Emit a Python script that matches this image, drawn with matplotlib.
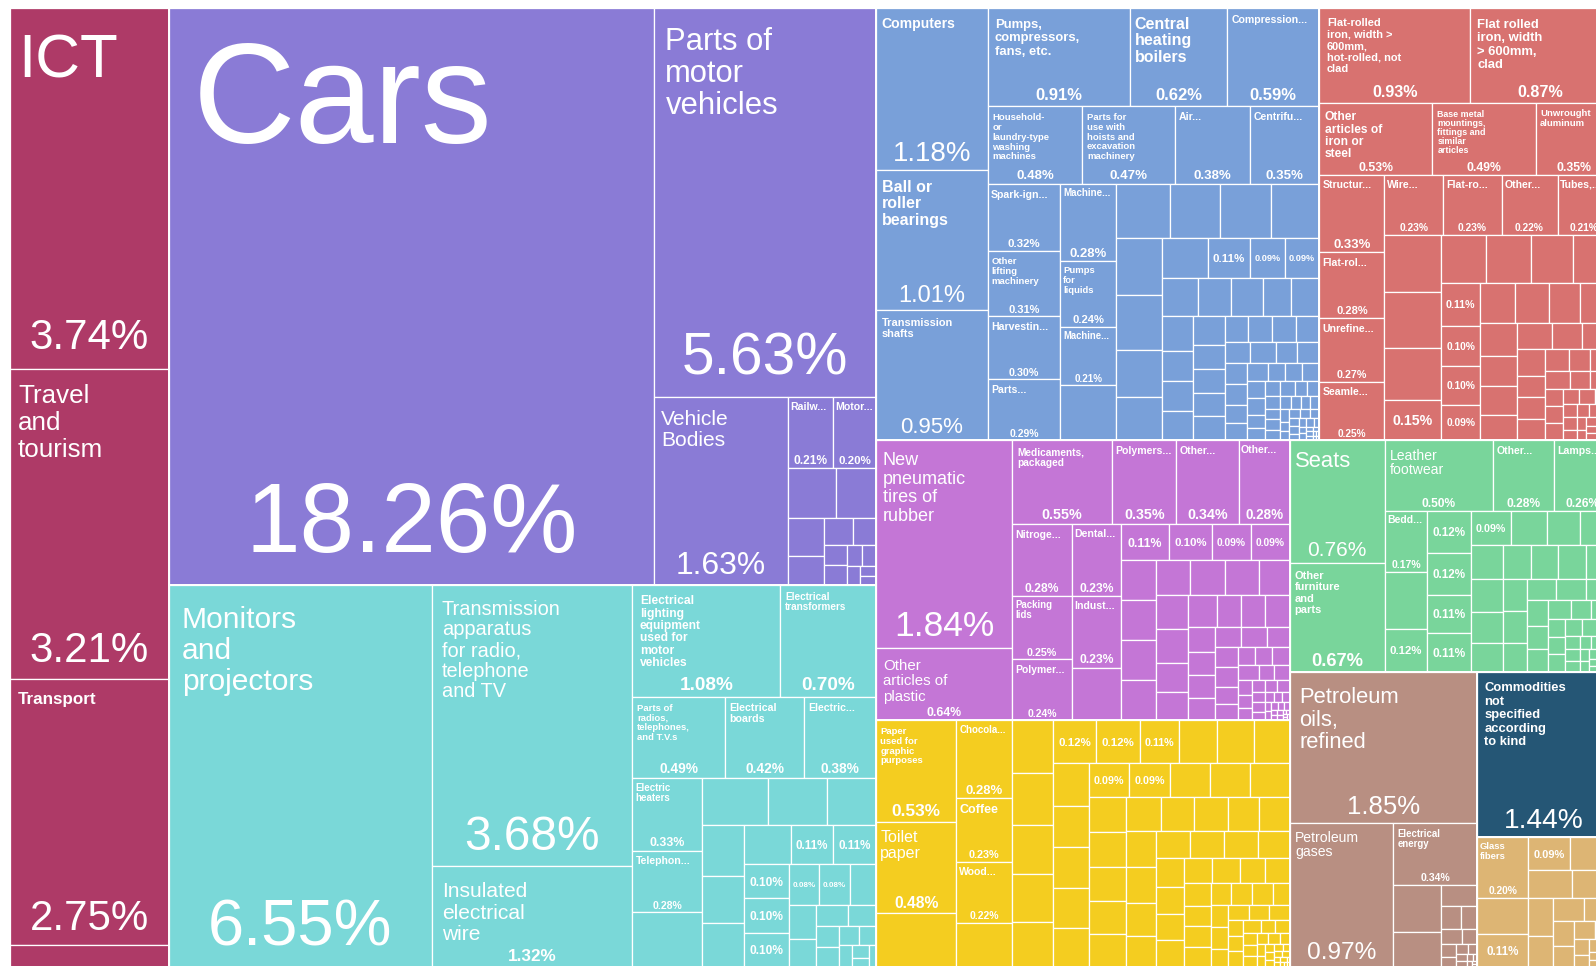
import math
import matplotlib
matplotlib.use("Agg")
import matplotlib.pyplot as plt
from matplotlib.patches import Rectangle
from matplotlib.font_manager import FontProperties

# ---------------------------------------------------------------- data (share of exports, %)
services_values = [3.74, 3.21, 2.75, 0.23]
services_names = ["ICT", "Travel and tourism", "Transport", None]

vehicles_values = [18.26, 5.63, 1.63, 0.21, 0.20, 0.16, 0.13, 0.09, 0.07, 0.05, 0.04,
                   0.03, 0.03, 0.02, 0.02, 0.015, 0.01, 0.01]
vehicles_names = ["Cars", "Parts of motor vehicles", "Vehicle Bodies", "Railw...", "Motor..."]

electrical_values = [6.55, 3.68, 1.32, 1.08, 0.70, 0.49, 0.42, 0.38, 0.33, 0.28, 0.25, 0.20,
                     0.18, 0.15, 0.14, 0.13, 0.12, 0.12, 0.11, 0.11, 0.10, 0.10, 0.10, 0.08,
                     0.08, 0.07, 0.06, 0.05, 0.045, 0.04, 0.03, 0.03, 0.025, 0.02, 0.02,
                     0.015, 0.01, 0.01]
electrical_names = ["Monitors and projectors",
                    "Transmission apparatus for radio, telephone and TV",
                    "Insulated electrical wire",
                    "Electrical lighting equipment used for motor vehicles",
                    "Electrical transformers", "Parts of radios, telephones, and T.V.s",
                    "Electrical boards", "Electric...", "Electric heaters", "Telephon...",
                    None, None, None, None, None, None, None, None,
                    "", "", "", "", "", "", ""]

machines_values = [1.18, 1.01, 0.95, 0.91, 0.62, 0.59, 0.48, 0.47, 0.38, 0.35, 0.32, 0.31,
                   0.30, 0.29, 0.28, 0.24, 0.21, 0.20, 0.19, 0.18, 0.18, 0.17, 0.17, 0.165,
                   0.14, 0.13, 0.12, 0.11, 0.09, 0.09,
                   0.09, 0.08, 0.08, 0.07, 0.07, 0.07, 0.06, 0.06, 0.06, 0.06, 0.05, 0.05,
                   0.05, 0.05, 0.04, 0.04, 0.04, 0.04, 0.035, 0.035, 0.03, 0.03, 0.03, 0.03,
                   0.025, 0.025, 0.025, 0.02, 0.02, 0.02, 0.02, 0.02, 0.015, 0.015, 0.015,
                   0.015, 0.012, 0.012, 0.012, 0.01, 0.01, 0.01, 0.01, 0.008, 0.008, 0.008,
                   0.008, 0.006, 0.006, 0.006, 0.006, 0.005, 0.005, 0.005, 0.004, 0.004,
                   0.004, 0.003, 0.003, 0.003, 0.002, 0.002, 0.002, 0.002, 0.001, 0.001,
                   0.001, 0.001]
machines_names = ["Computers", "Ball or roller bearings", "Transmission shafts",
                  "Pumps, compressors, fans, etc.", "Central heating boilers",
                  "Compression...", "Household- or laundry-type washing machines",
                  "Parts for use with hoists and excavation machinery", "Air...",
                  "Centrifu...", "Spark-ign...", "Other lifting machinery", "Harvestin...",
                  "Parts...", "Machine...", "Pumps for liquids", "Machine...",
                  None, None, None, None, None, None, None, None, None, None, "", "", ""]

metals_values = [0.93, 0.87, 0.53, 0.49, 0.35, 0.33, 0.28, 0.27, 0.25, 0.23, 0.23, 0.22,
                 0.21, 0.21, 0.21, 0.19, 0.15, 0.14, 0.14, 0.13, 0.12, 0.11, 0.10, 0.10, 0.09,
                 0.09, 0.09, 0.08, 0.08, 0.08, 0.07, 0.07, 0.06, 0.06, 0.05, 0.05, 0.05, 0.04,
                 0.04, 0.04, 0.035, 0.03, 0.03, 0.03, 0.025, 0.025, 0.02, 0.02, 0.02, 0.015,
                 0.015, 0.015, 0.012, 0.012, 0.01, 0.01, 0.01, 0.008, 0.008, 0.006, 0.006,
                 0.005, 0.005, 0.004, 0.004, 0.003, 0.003, 0.002, 0.002, 0.002, 0.001, 0.001]
metals_names = ["Flat-rolled iron, width > 600mm, hot-rolled, not clad",
                "Flat rolled iron, width > 600mm, clad", "Other articles of iron or steel",
                "Base metal mountings, fittings and similar articles", "Unwrought aluminum",
                "Structur...", "Flat-rol...", "Unrefine...", "Seamle...", "Wire...",
                "Flat-ro...", "Other...", "Tubes,...", None, None, None, "",
                None, None, None, None, "", "", "", ""]

chemicals_values = [1.84, 0.64, 0.55, 0.35, 0.34, 0.28, 0.28, 0.25, 0.24, 0.23, 0.23, 0.17,
                    0.11, 0.10, 0.09, 0.09,
                    0.09, 0.09, 0.09, 0.09, 0.08, 0.08, 0.08, 0.07, 0.07, 0.07, 0.06, 0.06,
                    0.06, 0.05, 0.05, 0.05, 0.045, 0.04, 0.04, 0.04, 0.035, 0.035, 0.03, 0.03,
                    0.03, 0.025, 0.025, 0.02, 0.02, 0.02, 0.02, 0.015, 0.015, 0.015, 0.012,
                    0.012, 0.01, 0.01, 0.01, 0.008, 0.008, 0.007, 0.006, 0.005, 0.005, 0.004,
                    0.004, 0.003, 0.003, 0.003, 0.002, 0.002, 0.002, 0.002, 0.001, 0.001,
                    0.001, 0.001, 0.001]
chemicals_names = ["New pneumatic tires of rubber", "Other articles of plastic",
                   "Medicaments, packaged", "Polymers...", "Other...", "Other...",
                   "Nitroge...", "Packing lids", "Polymer...", "Dental...", "Indust...",
                   None, "", "", "", ""]

food_paper_values = [0.53, 0.48, 0.28, 0.28, 0.23, 0.22, 0.16, 0.14, 0.14, 0.13, 0.13, 0.12,
                     0.12, 0.12, 0.11, 0.105, 0.10, 0.10, 0.10, 0.095, 0.095, 0.095, 0.09,
                     0.09, 0.09, 0.09, 0.088, 0.088,
                     0.085, 0.085, 0.08, 0.08, 0.08, 0.08, 0.075, 0.075, 0.07, 0.07, 0.07,
                     0.07, 0.065, 0.06, 0.06, 0.06, 0.06, 0.055, 0.055, 0.05, 0.05, 0.05,
                     0.045, 0.045, 0.04, 0.04, 0.04, 0.035, 0.035, 0.035, 0.03, 0.03, 0.03,
                     0.025, 0.025, 0.025, 0.02, 0.02, 0.02, 0.02, 0.015, 0.015, 0.015, 0.015,
                     0.012, 0.012, 0.01, 0.01, 0.01, 0.008, 0.008, 0.007, 0.006, 0.006,
                     0.005, 0.005, 0.004, 0.004, 0.003, 0.003, 0.003, 0.002, 0.002, 0.002,
                     0.001, 0.001, 0.001, 0.001]
food_paper_names = ["Paper used for graphic purposes", "Toilet paper", None, "Chocola...",
                    "Coffee", "Wood...", None, None, None, None, None, None, "", "", "",
                    None, None, None, None, None, None, None, None, "", ""]

furniture_values = [0.76, 0.67, 0.50, 0.28, 0.26, 0.17, 0.16, 0.12, 0.12, 0.12, 0.11, 0.11,
                    0.09, 0.08, 0.075, 0.07,
                    0.07, 0.07, 0.065, 0.06, 0.06, 0.06, 0.06, 0.055, 0.05, 0.05, 0.045,
                    0.04, 0.04, 0.035, 0.035, 0.03, 0.03, 0.03, 0.025, 0.025, 0.02, 0.02,
                    0.02, 0.018, 0.016, 0.015, 0.013, 0.012, 0.01, 0.01, 0.009, 0.008,
                    0.007, 0.006, 0.005, 0.005, 0.004, 0.004, 0.003, 0.003, 0.002, 0.002,
                    0.002, 0.001, 0.001, 0.001]
furniture_names = ["Seats", "Other furniture and parts", "Leather footwear", "Other...",
                   "Lamps...", "Bedd...", None, "", "", "", "", "", ""]

mineral_values = [1.85, 0.97, 0.34, 0.15, 0.11, 0.05, 0.03, 0.025, 0.02, 0.015, 0.012, 0.01,
                  0.008, 0.006, 0.005, 0.004, 0.003, 0.002, 0.002, 0.001, 0.001]
mineral_names = ["Petroleum oils, refined", "Petroleum gases", "Electrical energy"]

unspecified_values = [1.44]
unspecified_names = ["Commodities not specified according to kind"]

stone_values = [0.20, 0.12, 0.11, 0.09, 0.09, 0.08, 0.07, 0.06, 0.05, 0.045, 0.04, 0.035,
                0.03, 0.025, 0.02, 0.015, 0.012, 0.01, 0.008, 0.006, 0.005, 0.004, 0.003,
                0.002, 0.001]
stone_names = ["Glass fibers", None, "", ""]

# ---------------------------------------------------------------- styles
COLORS = {
    "services": "#AE3A67", "vehicles": "#8A7BD6", "electrical": "#7AD8D8",
    "machines": "#79A0D9", "metals": "#D87270", "chemicals": "#C476D6",
    "food_paper": "#F4CD20", "furniture": "#79D59B", "mineral": "#B88F82",
    "unspecified": "#255675", "stone": "#DDB574",
}
NAME_FONT_PX = {
    "Cars": 142, "ICT": 62, "Travel and tourism": 26, "Transport": 17,
    "Parts of motor vehicles": 31, "Monitors and projectors": 30,
    "Transmission apparatus for radio, telephone and TV": 20,
    "Insulated electrical wire": 21, "Vehicle Bodies": 21, "Computers": 14,
    "Ball or roller bearings": 16, "Transmission shafts": 11,
    "Pumps, compressors, fans, etc.": 13, "Central heating boilers": 16,
    "New pneumatic tires of rubber": 18, "Other articles of plastic": 15, "Seats": 22,
    "Petroleum oils, refined": 22, "Petroleum gases": 14,
    "Commodities not specified according to kind": 13, "Toilet paper": 16,
    "Leather footwear": 14, "Flat rolled iron, width > 600mm, clad": 13,
    "Flat-rolled iron, width > 600mm, hot-rolled, not clad": 11,
    "Other articles of iron or steel": 12,
    "Electrical lighting equipment used for motor vehicles": 12,
    "Other furniture and parts": 11, "Electrical transformers": 10,
}
BOLD_NAMES = {"Transport", "Computers", "Ball or roller bearings", "Transmission shafts",
              "Pumps, compressors, fans, etc.", "Central heating boilers",
              "Commodities not specified according to kind"}
BOLD_BELOW_PX = 13.5
TRUNCATED_MAX_PX = 10.5
WRAP_FRACTION = 0.52

W, H, DPI = 1596, 966, 100
FRAME = (10.0, 8.0, 1611.0, 967.0)   # treemap extends slightly past the right/bottom edge
FONT = "Liberation Sans"

# ---------------------------------------------------------------- layout (d3 squarify, ratio 1)
def squarify(values, x0, y0, x1, y1, ratio=1.0):
    n = len(values)
    rects = [None] * n
    value = float(sum(values))
    i0 = i1 = 0
    while i0 < n:
        dx, dy = x1 - x0, y1 - y0
        s = values[i1]; i1 += 1
        mn = mx = s
        alpha = max(dy / dx, dx / dy) / (value * ratio)
        beta = s * s * alpha
        best = max(mx / beta, beta / mn)
        while i1 < n:
            v = values[i1]
            s2 = s + v
            mn2, mx2 = min(mn, v), max(mx, v)
            beta = s2 * s2 * alpha
            r = max(mx2 / beta, beta / mn2)
            if r > best:
                break
            s, mn, mx, best = s2, mn2, mx2, r
            i1 += 1
        if dx < dy:
            yy = y0 + dy * s / value
            xx = x0
            for i in range(i0, i1):
                w = dx * values[i] / s
                rects[i] = (xx, y0, xx + w, yy)
                xx += w
            y0 = yy
        else:
            xx = x0 + dx * s / value
            yy = y0
            for i in range(i0, i1):
                h = dy * values[i] / s
                rects[i] = (x0, yy, xx, yy + h)
                yy += h
            x0 = xx
        value -= s
        i0 = i1
    return rects


sectors = {
    "services": (services_values, services_names),
    "vehicles": (vehicles_values, vehicles_names),
    "electrical": (electrical_values, electrical_names),
    "machines": (machines_values, machines_names),
    "metals": (metals_values, metals_names),
    "chemicals": (chemicals_values, chemicals_names),
    "food_paper": (food_paper_values, food_paper_names),
    "furniture": (furniture_values, furniture_names),
    "mineral": (mineral_values, mineral_names),
    "unspecified": (unspecified_values, unspecified_names),
    "stone": (stone_values, stone_names),
}

fig = plt.figure(figsize=(W / DPI, H / DPI), dpi=DPI)
fig.patch.set_facecolor("white")
ax = fig.add_axes([0, 0, 1, 1])
ax.set_xlim(0, W)
ax.set_ylim(H, 0)
ax.axis("off")
renderer = fig.canvas.get_renderer()


def fp(px, bold=False):
    return FontProperties(family=FONT, size=px * 72.0 / DPI,
                          weight="bold" if bold else "normal")


def tw(s, px, bold=False):
    w, h, d = renderer.get_text_width_height_descent(s, fp(px, bold), ismath=False)
    return w


def wrap(words, px, avail, bold):
    lines, cur = [], ""
    for wd in words:
        t = wd if not cur else cur + " " + wd
        if cur and tw(t, px, bold) > avail:
            lines.append(cur)
            cur = wd
        else:
            cur = t
    if cur:
        lines.append(cur)
    return lines


def draw_label(name, value, r):
    x0, y0, x1, y1 = r
    w, h = x1 - x0, y1 - y0
    pct = f"{value:.2f}%"
    em_pct = tw(pct, 100) / 100.0
    cx = (x0 + x1) / 2
    if name == "":
        pf = max(min(0.75 * w / em_pct, 0.35 * h), 8)
        ax.text(cx, (y0 + y1) / 2 + 0.36 * pf, pct, fontproperties=fp(pf, pf < 20),
                color="white", ha="center", va="baseline")
        return
    pf = max(min(0.75 * w / em_pct, 0.17 * h), 9)
    pad = max(2.5, 0.05 * w)
    words = name.split()
    fixed = name in NAME_FONT_PX
    if fixed:
        nf = NAME_FONT_PX[name]
    else:
        em = tw(name, 100) / 100.0
        nf = math.sqrt(0.15 * w * h / (em * 1.15))
        nf = max(min(nf, 0.27 * math.sqrt(w * h)), 9.5)
        if name.endswith("..."):
            nf = min(nf, TRUNCATED_MAX_PX)
    while True:
        nb = nf < BOLD_BELOW_PX or name in BOLD_NAMES
        lines = wrap(words, nf, WRAP_FRACTION * w, nb)
        maxw = max(tw(l, nf, nb) for l in lines)
        top = min(0.05 * w, 15) + min(0.28 * nf, 18)
        need = top + 0.716 * nf + (len(lines) - 1) * 1.03 * nf + 1.2 * pf + 0.057 * h
        if fixed or nf <= 8 or (maxw <= w - 2 * pad and need <= h):
            break
        nf *= 0.93
    for i, line in enumerate(lines):
        ax.text(x0 + pad, y0 + top + 0.716 * nf + i * 1.03 * nf, line,
                fontproperties=fp(nf, nb), color="white", ha="left", va="baseline")
    ax.text(cx, y1 - 0.057 * h, pct, fontproperties=fp(pf, pf < 20),
            color="white", ha="center", va="baseline")


# top level: services first, then all goods sectors (sorted by size)
goods_keys = [k for k in sectors if k != "services"]
goods_totals = {k: sum(sectors[k][0]) for k in goods_keys}
goods_keys.sort(key=lambda k: -goods_totals[k])
top_rects = squarify([sum(services_values), sum(goods_totals.values())], *FRAME)
sector_rects = {"services": top_rects[0]}
for k, r in zip(goods_keys, squarify([goods_totals[k] for k in goods_keys], *top_rects[1])):
    sector_rects[k] = r

for key, (vals, names) in sectors.items():
    order = sorted(range(len(vals)), key=lambda i: -vals[i])
    svals = [vals[i] for i in order]
    snames = [names[i] if i < len(names) else None for i in order]
    rects = squarify(svals, *sector_rects[key])
    col = COLORS[key]
    for (rx0, ry0, rx1, ry1) in rects:
        ax.add_patch(Rectangle((rx0, ry0), rx1 - rx0, ry1 - ry0, facecolor=col,
                               edgecolor="white", linewidth=0.9))
    sx0, sy0, sx1, sy1 = sector_rects[key]
    ax.add_patch(Rectangle((sx0, sy0), sx1 - sx0, sy1 - sy0, fill=False,
                           edgecolor="white", linewidth=1.3))
    for nm, v, r in zip(snames, svals, rects):
        if nm is not None:
            draw_label(nm, v, r)

fig.savefig("out.png", dpi=DPI, facecolor="white")
